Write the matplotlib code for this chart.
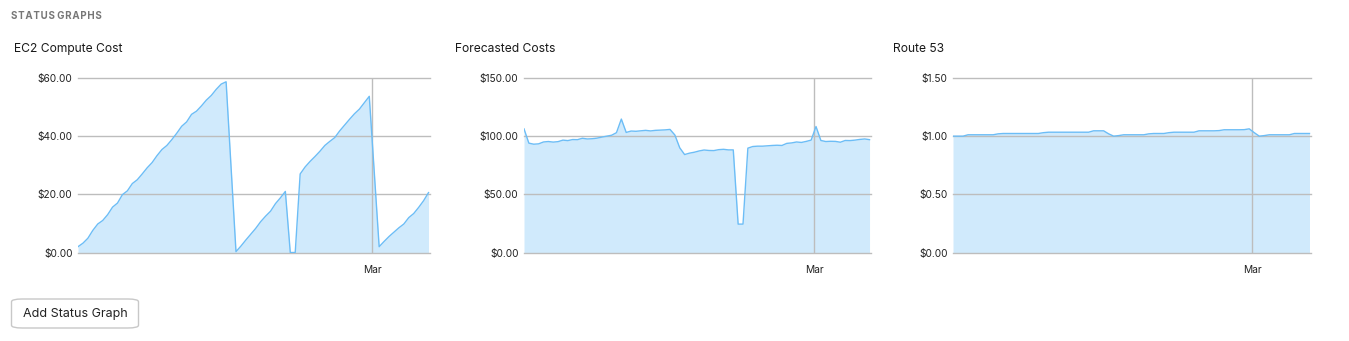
import numpy as np
import pandas as pd
import matplotlib
matplotlib.use("Agg")
import matplotlib.pyplot as plt
from matplotlib.patches import FancyBboxPatch

plt.rcParams['font.family'] = ['Inter', 'DejaVu Sans']

# daily samples, first one on the morning of Dec 31
dates = pd.date_range("2018-12-31 09:36", periods=72, freq="D")
x_end = pd.Timestamp("2019-03-12 16:48")
mar_tick = pd.Timestamp("2019-03-01")

titles = ["EC2 Compute Cost", "Forecasted Costs", "Route 53"]

ec2_cost = [2.0, 3.2, 4.9, 7.6, 9.8, 11.0, 13.0, 15.6, 17.0, 19.9,
            21.2, 23.7, 25.0, 27.0, 29.1, 30.9, 33.3, 35.4, 36.8, 38.8,
            41.0, 43.4, 44.9, 47.5, 48.6, 50.4, 52.4, 54.0, 56.1, 57.9,
            58.7, 29.5, 0.3, 2.2, 4.3, 6.3, 8.3, 10.6, 12.5, 14.2,
            16.8, 18.8, 21.0, 0.0, 0.0, 27.0, 29.4, 31.3, 33.0, 34.8,
            36.8, 38.2, 39.5, 41.8, 43.8, 45.8, 47.7, 49.3, 51.5, 53.7,
            27.9, 2.0, 3.8, 5.5, 7.0, 8.5, 9.8, 12.0, 13.4, 15.5,
            17.8, 20.6]

forecast = [106.3, 94.0, 93.1, 93.4, 95.0, 95.4, 94.9, 95.3, 96.6, 96.2,
            97.1, 97.0, 98.2, 97.6, 97.8, 98.3, 99.2, 100.0, 100.8, 103.0,
            114.7, 103.2, 104.4, 104.2, 104.6, 105.0, 104.5, 105.0, 105.2, 105.4,
            105.8, 101.0, 90.0, 84.2, 85.4, 86.2, 87.3, 88.1, 87.7, 87.6,
            88.4, 88.7, 88.2, 88.2, 24.4, 24.4, 89.7, 91.1, 91.4, 91.4,
            91.7, 92.0, 92.2, 92.0, 93.8, 94.2, 95.0, 94.6, 95.5, 96.6,
            108.3, 96.3, 95.4, 95.6, 95.5, 94.8, 96.3, 96.2, 96.6, 97.2,
            97.6, 97.0]

route53 = [1.000, 1.000, 1.000, 1.012, 1.012, 1.012, 1.012, 1.012, 1.012, 1.020,
           1.023, 1.023, 1.023, 1.023, 1.023, 1.023, 1.023, 1.023, 1.030, 1.034,
           1.034, 1.034, 1.034, 1.034, 1.034, 1.034, 1.034, 1.034, 1.046, 1.046,
           1.046, 1.020, 1.000, 1.005, 1.012, 1.012, 1.012, 1.012, 1.012, 1.020,
           1.023, 1.023, 1.023, 1.030, 1.034, 1.034, 1.034, 1.034, 1.034, 1.046,
           1.046, 1.046, 1.046, 1.048, 1.055, 1.055, 1.055, 1.055, 1.056, 1.063,
           1.030, 1.000, 1.005, 1.012, 1.012, 1.012, 1.012, 1.012, 1.023, 1.023,
           1.023, 1.023]

series = [ec2_cost, forecast, route53]
y_ticks = [[0, 20, 40, 60], [0, 50, 100, 150], [0, 0.5, 1.0, 1.5]]

line_col = "#6cbdf6"
fill_col = "#d0eafc"
grid_col = "#bdbdbd"

W, H = 1349, 341
fig = plt.figure(figsize=(W / 100, H / 100), dpi=100)

# axes boxes in pixels: left, right
boxes = [(78, 430), (524, 871), (953, 1311)]
title_x = [14, 455, 893]
top_px, bot_px = 78, 252.5

for i in range(3):
    l, r = boxes[i]
    ax = fig.add_axes([l / W, (H - bot_px) / H, (r - l) / W, (bot_px - top_px) / H])
    ax.fill_between(dates, series[i], 0, color=fill_col, lw=0, zorder=1)
    ax.plot(dates, series[i], color=line_col, lw=1.0, zorder=3)
    ax.set_xlim(dates[0], x_end)
    ax.set_ylim(y_ticks[i][0], y_ticks[i][-1])
    for t in y_ticks[i]:
        ax.axhline(t, color=grid_col, lw=1, zorder=2, clip_on=False)
    ax.axvline(mar_tick, color=grid_col, lw=1, zorder=2)
    ax.set_yticks(y_ticks[i])
    ax.set_yticklabels(["${:,.2f}".format(t) for t in y_ticks[i]])
    ax.set_xticks([mar_tick])
    ax.set_xticklabels(["Mar"])
    ax.tick_params(axis='both', length=0, labelsize=7.3, colors="#222222")
    ax.tick_params(axis='y', pad=4)
    ax.tick_params(axis='x', pad=9)
    for s in ax.spines.values():
        s.set_visible(False)
    fig.text(title_x[i] / W, 1 - 49 / H, titles[i], fontsize=8.7,
             color="#1a1a1a", va="center", ha="left")

# letter-spaced section header
header = " ".join("\u200a".join(w) for w in "STATUS GRAPHS".split())
fig.text(11 / W, 1 - 16 / H, header,
         fontsize=7.0, weight="bold", color="#777777", va="center", ha="left")

# button
btn = FancyBboxPatch((11.5 / W, 1 - 328 / H), 127 / W, 29 / H,
                     boxstyle="round,pad=0,rounding_size=0.008",
                     transform=fig.transFigure, facecolor="white",
                     edgecolor="#c8c8c8", lw=1)
fig.patches.append(btn)
fig.text(75 / W, 1 - 313.5 / H, "Add Status Graph", fontsize=9.0,
         color="#222222", va="center", ha="center")

fig.savefig("out.png", dpi=100)
